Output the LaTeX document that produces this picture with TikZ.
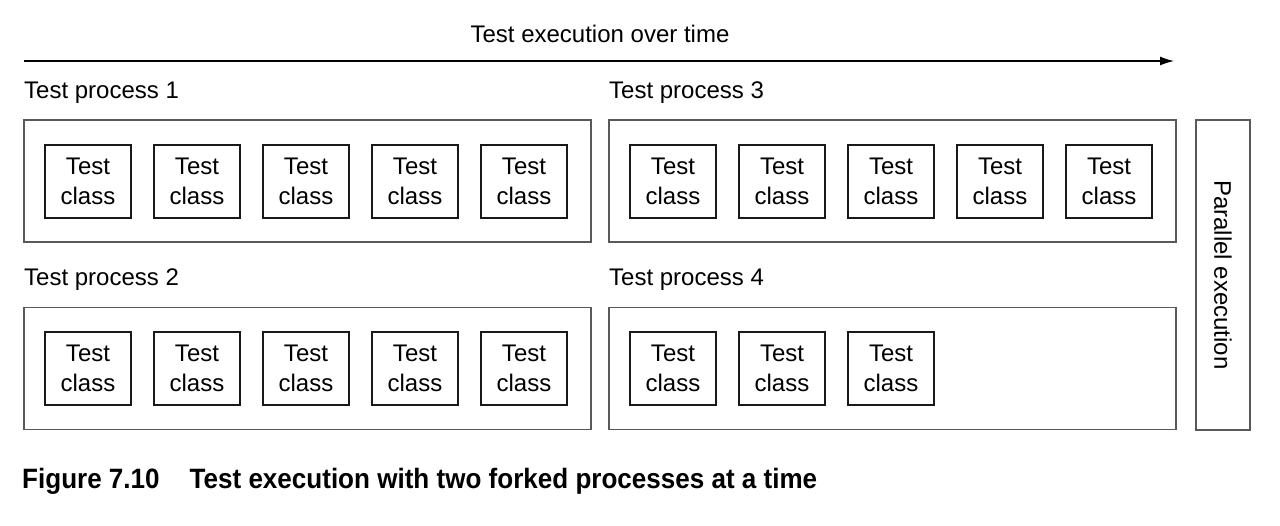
\documentclass[tikz,border=0pt]{standalone}
\usepackage{fontspec}
\setmainfont{Liberation Sans}
\newfontfamily\capfont[FakeStretch=0.93]{Liberation Sans Bold}
\usetikzlibrary{arrows.meta}
\begin{document}
\begin{tikzpicture}[x=1pt,y=-1pt,
  txt/.style={font=\fontsize{24}{30}\selectfont, inner sep=0pt},
  outerbox/.style={draw=black!65, line width=1.4pt, minimum width=567pt, minimum height=122pt, inner sep=0pt},
  classbox/.style={draw=black!90, line width=1.8pt, minimum width=86pt, minimum height=73pt, inner sep=0pt, align=center, font=\fontsize{24}{30}\selectfont},
  plabel/.style={txt, anchor=west}
]
\useasboundingbox (0,0) rectangle (1280,525);
% title and time arrow
\node[txt] (title) at (600,34) {Test execution over time};
\coordinate (ts) at (24,61);
\coordinate (te) at (1174,61);
\draw[line width=1.3pt, -{Latex[length=14pt,width=9pt]}] (ts) -- (te);
% process labels
\node[plabel] (l1) at (24,93) {Test process 1};
\node[plabel] (l2) at (24,280) {Test process 2};
\node[plabel] (l3) at (609,93) {Test process 3};
\node[plabel] (l4) at (609,280) {Test process 4};
% outer boxes
\node[outerbox] (p1) at (307.5,181) {};
\node[outerbox] (p2) at (307.5,368.5) {};
\node[outerbox] (p3) at (892.5,181) {};
\node[outerbox] (p4) at (892.5,368.5) {};
% parallel box
\node[draw=black!65, line width=1.4pt, minimum width=54pt, minimum height=310pt, inner sep=0pt] (par) at (1223,275) {};
\node[txt, rotate=-90] (partext) at (par.center) {Parallel execution};
% class boxes
\foreach \i in {0,...,4}{
  \node[classbox] (a\i) at ({88+109*\i},181.5) {Test\\class};
  \node[classbox] (b\i) at ({88+109*\i},368.5) {Test\\class};
  \node[classbox] (c\i) at ({673+109*\i},181.5) {Test\\class};
}
\foreach \i in {0,...,2}{
  \node[classbox] (d\i) at ({673+109*\i},368.5) {Test\\class};
}
% caption
\node[anchor=west, inner sep=0pt, font=\capfont\fontsize{28}{32}\selectfont] (cap) at (22,481) {Figure 7.10\hspace{30pt}Test execution with two forked processes at a time};
\end{tikzpicture}
\end{document}
